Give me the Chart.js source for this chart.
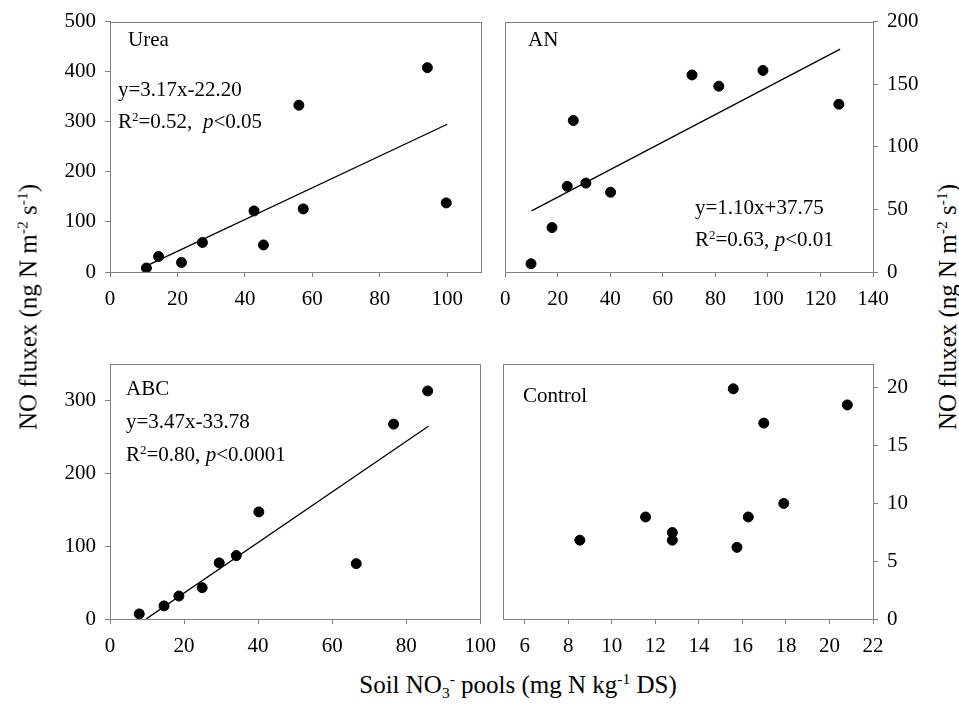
<!DOCTYPE html>
<html lang="en">
<head>
    <meta charset="UTF-8">
    <title>NO fluxes vs soil NO3 pools</title>
    <script src="https://cdn.jsdelivr.net/npm/chart.js"></script>
    <style>
        body { margin: 0; background: #fff; }
        #wrap { position: relative; width: 959px; height: 714px; font-family: "Liberation Serif", "Times New Roman", serif; color: #000; }
        canvas { position: absolute; }
        .note { position: absolute; font-size: 21px; line-height: 21px; white-space: nowrap; }
        .title { position: absolute; font-size: 25px; line-height: 25px; white-space: nowrap; }
        sup, sub { font-size: 0.62em; line-height: 0; }
        sup { vertical-align: 0.55em; }
        sub { vertical-align: -0.3em; }
        .ytitle { transform: translate(-50%, -50%) rotate(-90deg); }
    </style>
</head>
<body>
<div id="wrap">
    <canvas id="urea" width="490" height="310" style="left:0;top:0"></canvas>
    <canvas id="an" width="440" height="310" style="left:490px;top:0"></canvas>
    <canvas id="abc" width="506" height="345" style="left:0;top:320px"></canvas>
    <canvas id="ctrl" width="440" height="345" style="left:490px;top:320px"></canvas>

    <div class="note" style="left:128px;top:29px">Urea</div>
    <div class="note" style="left:118px;top:79px">y=3.17x-22.20</div>
    <div class="note" style="left:118px;top:111px">R<sup>2</sup>=0.52,&nbsp; <i>p</i>&lt;0.05</div>

    <div class="note" style="left:528px;top:29px">AN</div>
    <div class="note" style="left:695px;top:197px">y=1.10x+37.75</div>
    <div class="note" style="left:695px;top:229px">R<sup>2</sup>=0.63, <i>p</i>&lt;0.01</div>

    <div class="note" style="left:126px;top:378px">ABC</div>
    <div class="note" style="left:126px;top:411px">y=3.47x-33.78</div>
    <div class="note" style="left:126px;top:444px">R<sup>2</sup>=0.80, <i>p</i>&lt;0.0001</div>

    <div class="note" style="left:523px;top:385px">Control</div>

    <div class="title ytitle" style="left:28px;top:307px">NO fluxex (ng N m<sup>-2</sup> s<sup>-1</sup>)</div>
    <div class="title ytitle" style="left:947px;top:307px">NO fluxex (ng N m<sup>-2</sup> s<sup>-1</sup>)</div>
    <div class="title" style="left:518px;top:672px;transform:translateX(-50%)">Soil NO<sub>3</sub><sup>-</sup> pools (mg N kg<sup>-1</sup> DS)</div>
</div>

<script>
    // soil NO3- pools (x) and NO flux (y)
    const ureaX = [10.8, 14.4, 21.2, 27.4, 42.7, 45.5, 56.0, 57.3, 94.1, 99.7]
    const ureaY = [8, 31, 19, 59, 122, 54, 333, 126, 408, 138]
    const anX = [9.8, 17.8, 23.6, 25.9, 30.7, 40.1, 71.1, 81.3, 98.1, 127.0]
    const anY = [6.6, 35.5, 68.4, 121, 71, 63.7, 157.4, 148.4, 161, 134]
    const abcX = [7.9, 14.6, 18.6, 24.9, 29.5, 34.1, 40.2, 66.5, 76.6, 85.8]
    const abcY = [7, 18, 31.5, 43, 77, 87, 147, 76, 267.5, 313]
    const ctrlX = [8.53, 11.55, 12.78, 12.78, 15.58, 15.75, 16.27, 16.98, 17.9, 20.82]
    const ctrlY = [6.8, 8.8, 7.46, 6.8, 19.86, 6.18, 8.8, 16.9, 9.97, 18.47]

    // regression line end points
    const ureaFitX = [11.3, 100]
    const ureaFitY = [13.6, 295]
    const anFitX = [10, 127.5]
    const anFitY = [48.8, 178]
    const abcFitX = [9.8, 86]
    const abcFitY = [0.2, 264.6]

    // tick labels
    const ureaXTicks = [0, 20, 40, 60, 80, 100]
    const ureaYTicks = [0, 100, 200, 300, 400, 500]
    const anXTicks = [0, 20, 40, 60, 80, 100, 120, 140]
    const anYTicks = [0, 50, 100, 150, 200]
    const abcXTicks = [0, 20, 40, 60, 80, 100]
    const abcYTicks = [0, 100, 200, 300]
    const ctrlXTicks = [6, 8, 10, 12, 14, 16, 18, 20, 22]
    const ctrlYTicks = [0, 5, 10, 15, 20]

    const gris = '#808080'
    Chart.defaults.font.family = 'Liberation Serif, Times New Roman, serif'
    const fonte = { family: 'Liberation Serif, Times New Roman, serif', size: 21 }

    const moldura = {
        id: 'moldura',
        afterDraw(chart) {
            const a = chart.chartArea, c = chart.ctx
            c.save()
            c.strokeStyle = gris
            c.lineWidth = 1
            c.strokeRect(Math.round(a.left) + 0.5, Math.round(a.top) + 0.5,
                Math.round(a.right - a.left), Math.round(a.bottom - a.top))
            c.restore()
        }
    }

    const pares = (xs, ys) => xs.map((x, i) => ({ x: x, y: ys[i] }))

    const painel = (id, o) => {
        const datasets = [{
            data: pares(o.x, o.y),
            backgroundColor: '#000', borderColor: '#000',
            pointRadius: 5, pointHoverRadius: 5
        }]
        if (o.fitX) {
            datasets.push({
                data: pares(o.fitX, o.fitY),
                showLine: true, pointRadius: 0,
                borderColor: '#000', borderWidth: 1.3
            })
        }
        return new Chart(document.getElementById(id), {
            type: 'scatter',
            data: { datasets: datasets },
            plugins: [moldura],
            options: {
                responsive: false,
                animation: false,
                layout: { padding: o.pad },
                plugins: { legend: { display: false }, tooltip: { enabled: false } },
                scales: {
                    x: {
                        type: 'linear', min: o.xMin, max: o.xMax,
                        afterBuildTicks: s => { s.ticks = o.xTicks.map(v => ({ value: v })) },
                        afterFit: s => { s.height = o.xH },
                        grid: { drawOnChartArea: false, tickLength: 5, color: gris },
                        border: { color: gris },
                        ticks: { font: fonte, color: '#000', padding: 10, maxRotation: 0 }
                    },
                    y: {
                        type: 'linear', position: o.yPos, min: o.yMin, max: o.yMax,
                        afterBuildTicks: s => { s.ticks = o.yTicks.map(v => ({ value: v })) },
                        afterFit: s => { s.width = o.yW },
                        grid: { drawOnChartArea: false, tickLength: 5, color: gris },
                        border: { color: gris },
                        ticks: { font: fonte, color: '#000', padding: 9 }
                    }
                }
            }
        })
    }

    painel('urea', {
        x: ureaX, y: ureaY, fitX: ureaFitX, fitY: ureaFitY,
        xMin: 0, xMax: 110, yMin: 0, yMax: 500, xTicks: ureaXTicks, yTicks: ureaYTicks,
        yPos: 'left', yW: 110, xH: 38, pad: { top: 18, right: 9, left: 0, bottom: 0 }
    })
    painel('an', {
        x: anX, y: anY, fitX: anFitX, fitY: anFitY,
        xMin: 0, xMax: 140, yMin: 0, yMax: 200, xTicks: anXTicks, yTicks: anYTicks,
        yPos: 'right', yW: 57, xH: 38, pad: { top: 18, right: 0, left: 13, bottom: 0 }
    })
    // wider canvas so the "100" label at the right edge does not squeeze the plot
    painel('abc', {
        x: abcX, y: abcY, fitX: abcFitX, fitY: abcFitY,
        xMin: 0, xMax: 100, yMin: 0, yMax: 350, xTicks: abcXTicks, yTicks: abcYTicks,
        yPos: 'left', yW: 110, xH: 46, pad: { top: 44, right: 25, left: 0, bottom: 0 }
    })
    painel('ctrl', {
        x: ctrlX, y: ctrlY,
        xMin: 5, xMax: 22, yMin: 0, yMax: 22, xTicks: ctrlXTicks, yTicks: ctrlYTicks,
        yPos: 'right', yW: 57, xH: 46, pad: { top: 44, right: 0, left: 13, bottom: 0 }
    })
</script>
</body>
</html>
